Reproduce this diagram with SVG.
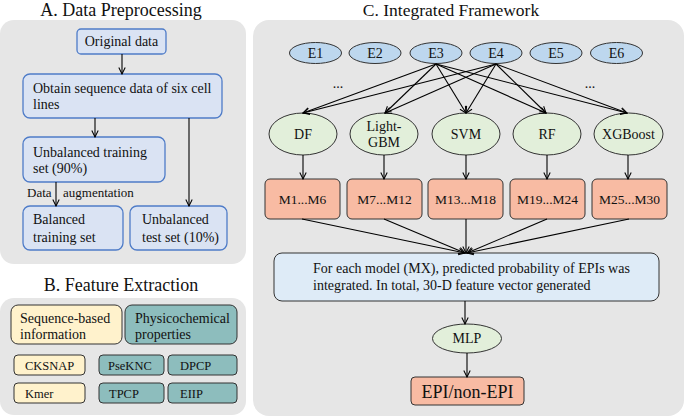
<svg xmlns="http://www.w3.org/2000/svg" width="685" height="417" viewBox="0 0 685 417" font-family="'Liberation Serif', 'DejaVu Serif', serif">
<defs>
<marker id="arr" viewBox="0 0 10 10" refX="9" refY="5" markerWidth="8" markerHeight="8" orient="auto" markerUnits="userSpaceOnUse">
<path d="M1,1 L9,5 L1,9" fill="none" stroke="#000" stroke-width="1.3"/>
</marker>
</defs>
<style>
text{font-family:'Liberation Serif','DejaVu Serif',serif;fill:#111}
.t{font-size:18px}
.s{font-size:14px}
.panel{fill:#e6e6e6}
.blue{fill:#dae3f3;stroke:#4f7cc8;stroke-width:1.3}
.e{fill:#bdd7ee;stroke:#333;stroke-width:1}
.g{fill:#e2efda;stroke:#333;stroke-width:1}
.m{fill:#f8bba3;stroke:#333;stroke-width:1}
.lb{fill:#deebf7;stroke:#333;stroke-width:1}
.y{fill:#fff2cc;stroke:#333;stroke-width:1}
.tl{fill:#8dbdbd;stroke:#333;stroke-width:1}
.c line{stroke:#000;stroke-width:1.1;fill:none;marker-end:url(#arr)}
</style>
<!-- Panels -->
<rect class="panel" x="0" y="20" width="246" height="244" rx="14"/>
<rect class="panel" x="0" y="298" width="246" height="117" rx="14"/>
<rect class="panel" x="253" y="20" width="431" height="396" rx="16"/>
<text class="t" x="121" y="16" text-anchor="middle">A. Data Preprocessing</text>
<text class="t" x="121" y="291" text-anchor="middle">B. Feature Extraction</text>
<text class="t" x="451" y="16" text-anchor="middle" style="font-size:17.5px">C. Integrated Framework</text>

<!-- Panel A -->
<g id="a_original"><rect class="blue" x="77" y="29" width="89" height="25" rx="4"/><text class="s" x="121.5" y="46" text-anchor="middle">Original data</text></g>
<g id="a_obtain"><rect class="blue" x="23" y="74" width="199" height="44" rx="7"/><text class="s" x="33" y="93">Obtain sequence data of six cell</text><text class="s" x="33" y="109">lines</text></g>
<g id="a_unbal_train"><rect class="blue" x="23" y="137" width="142" height="45" rx="7"/><text class="s" x="33" y="157">Unbalanced training</text><text class="s" x="33" y="173">set (90%)</text></g>
<g id="a_bal_train"><rect class="blue" x="23" y="206" width="100" height="44" rx="7"/><text class="s" x="33" y="224">Balanced</text><text class="s" x="33" y="242">training set</text></g>
<g id="a_unbal_test"><rect class="blue" x="130" y="206" width="97" height="44" rx="7"/><text class="s" x="142" y="224">Unbalanced</text><text class="s" x="142" y="242">test set (10%)</text></g>
<text class="s" x="27" y="197" style="font-size:13px">Data</text>
<text class="s" x="63" y="197" style="font-size:13px">augmentation</text>

<!-- Panel B -->
<g id="b_seq"><rect class="y" x="11" y="305" width="111" height="39" rx="7"/><text class="s" x="20" y="323">Sequence-based</text><text class="s" x="20" y="339">information</text></g>
<g id="b_phys"><rect class="tl" x="125" y="305" width="112" height="39" rx="7"/><text class="s" x="135" y="323">Physicochemical</text><text class="s" x="135" y="339">properties</text></g>
<g id="b_cksnap"><rect class="y" x="14" y="355" width="71" height="20" rx="4"/><text class="s" x="25" y="370" style="font-size:12.5px">CKSNAP</text></g>
<g id="b_kmer"><rect class="y" x="14" y="383" width="71" height="20" rx="4"/><text class="s" x="25" y="398" style="font-size:12.5px">Kmer</text></g>
<g id="b_pseknc"><rect class="tl" x="99" y="355" width="65" height="20" rx="4"/><text class="s" x="108" y="370" style="font-size:12.5px">PseKNC</text></g>
<g id="b_dpcp"><rect class="tl" x="168" y="355" width="69" height="20" rx="4"/><text class="s" x="180" y="370" style="font-size:12.5px">DPCP</text></g>
<g id="b_tpcp"><rect class="tl" x="99" y="383" width="65" height="20" rx="4"/><text class="s" x="109" y="398" style="font-size:12.5px">TPCP</text></g>
<g id="b_eiip"><rect class="tl" x="168" y="383" width="69" height="20" rx="4"/><text class="s" x="180" y="398" style="font-size:12.5px">EIIP</text></g>

<!-- Panel C -->
<g id="e1"><ellipse class="e" cx="315.5" cy="53" rx="26" ry="10.5"/><text class="s" x="315.5" y="58" text-anchor="middle">E1</text></g>
<g id="e2"><ellipse class="e" cx="375" cy="53" rx="26" ry="10.5"/><text class="s" x="375" y="58" text-anchor="middle">E2</text></g>
<g id="e3"><ellipse class="e" cx="436" cy="53" rx="26" ry="10.5"/><text class="s" x="436" y="58" text-anchor="middle">E3</text></g>
<g id="e4"><ellipse class="e" cx="496" cy="53" rx="26" ry="10.5"/><text class="s" x="496" y="58" text-anchor="middle">E4</text></g>
<g id="e5"><ellipse class="e" cx="556" cy="53" rx="26" ry="10.5"/><text class="s" x="556" y="58" text-anchor="middle">E5</text></g>
<g id="e6"><ellipse class="e" cx="616.5" cy="53" rx="26" ry="10.5"/><text class="s" x="616.5" y="58" text-anchor="middle">E6</text></g>
<text class="s" x="338" y="88" text-anchor="middle">...</text>
<text class="s" x="590" y="88" text-anchor="middle">...</text>

<g id="df"><ellipse class="g" cx="303" cy="134" rx="34" ry="21"/><text class="s" x="303" y="139" text-anchor="middle">DF</text></g>
<g id="lightgbm"><ellipse class="g" cx="384" cy="134" rx="34" ry="21"/><text class="s" x="384" y="131" text-anchor="middle">Light-</text><text class="s" x="384" y="147" text-anchor="middle">GBM</text></g>
<g id="svm"><ellipse class="g" cx="466" cy="134" rx="34" ry="21"/><text class="s" x="466" y="139" text-anchor="middle">SVM</text></g>
<g id="rf"><ellipse class="g" cx="547" cy="134" rx="34" ry="21"/><text class="s" x="547" y="139" text-anchor="middle">RF</text></g>
<g id="xgboost"><ellipse class="g" cx="628.5" cy="134" rx="34.5" ry="21"/><text class="s" x="628.5" y="139" text-anchor="middle">XGBoost</text></g>

<g id="m1"><rect class="m" x="265" y="179" width="75" height="40" rx="5"/><text class="s" x="302.5" y="204" text-anchor="middle" style="font-size:13.5px">M1...M6</text></g>
<g id="m7"><rect class="m" x="347" y="179" width="75" height="40" rx="5"/><text class="s" x="384.5" y="204" text-anchor="middle" style="font-size:13.5px">M7...M12</text></g>
<g id="m13"><rect class="m" x="428" y="179" width="75" height="40" rx="5"/><text class="s" x="465.5" y="204" text-anchor="middle" style="font-size:13.5px">M13...M18</text></g>
<g id="m19"><rect class="m" x="510" y="179" width="75" height="40" rx="5"/><text class="s" x="547.5" y="204" text-anchor="middle" style="font-size:13.5px">M19...M24</text></g>
<g id="m25"><rect class="m" x="592" y="179" width="75" height="40" rx="5"/><text class="s" x="629.5" y="204" text-anchor="middle" style="font-size:13.5px">M25...M30</text></g>

<g id="integrate"><rect class="lb" x="274" y="253" width="385" height="48" rx="8"/><text class="s" x="313" y="273">For each model (MX), predicted probability of EPIs was</text><text class="s" x="313" y="290">integrated. In total, 30-D feature vector generated</text></g>
<g id="mlp"><ellipse class="g" cx="467" cy="338.5" rx="34.5" ry="14.5"/><text class="s" x="467" y="343" text-anchor="middle">MLP</text></g>
<g id="epi"><rect class="m" x="411" y="377" width="113" height="28" rx="4"/><text x="467.5" y="398" text-anchor="middle" style="font-size:18px">EPI/non-EPI</text></g>

<!-- Connectors -->
<g id="connectors" class="c">
<line x1="122" y1="54" x2="122" y2="74"/>
<line x1="95" y1="118" x2="95" y2="137"/>
<line x1="189" y1="118" x2="189" y2="206"/>
<line x1="56" y1="182" x2="56" y2="206"/>
<line x1="436" y1="64" x2="303" y2="113"/>
<line x1="436" y1="64" x2="385" y2="113"/>
<line x1="436" y1="64" x2="466" y2="113"/>
<line x1="436" y1="64" x2="546" y2="113"/>
<line x1="436" y1="64" x2="627" y2="113"/>
<line x1="496" y1="64" x2="303" y2="113"/>
<line x1="496" y1="64" x2="385" y2="113"/>
<line x1="496" y1="64" x2="466" y2="113"/>
<line x1="496" y1="64" x2="546" y2="113"/>
<line x1="496" y1="64" x2="627" y2="113"/>
<line x1="303" y1="155" x2="303" y2="179"/>
<line x1="384" y1="155" x2="384" y2="179"/>
<line x1="466" y1="155" x2="466" y2="179"/>
<line x1="547" y1="155" x2="547" y2="179"/>
<line x1="628" y1="155" x2="628" y2="179"/>
<line x1="302" y1="219" x2="465" y2="253"/>
<line x1="384" y1="219" x2="465" y2="253"/>
<line x1="466" y1="219" x2="466" y2="253"/>
<line x1="547" y1="219" x2="467" y2="253"/>
<line x1="629" y1="219" x2="467" y2="253"/>
<line x1="465" y1="301" x2="465" y2="324"/>
<line x1="467" y1="353" x2="467" y2="377"/>
</g>
</svg>
